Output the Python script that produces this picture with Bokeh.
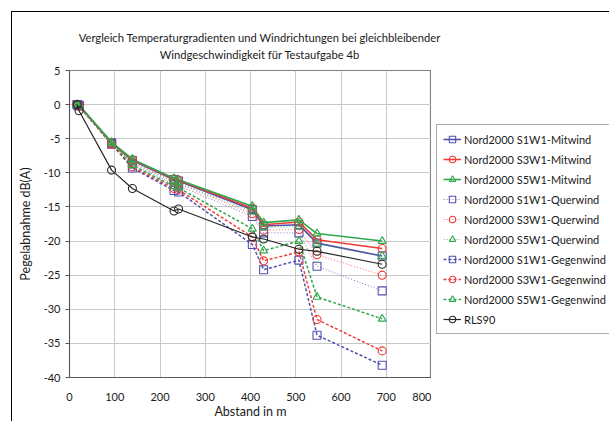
from bokeh.plotting import figure
from bokeh.layouts import row, column
from bokeh.models import Range1d, FixedTicker, Legend, LegendItem, PrintfTickFormatter, Div
from bokeh.embed import file_html
from bokeh.resources import INLINE

# ---- data ----
distance = [17, 21, 93, 139, 231, 241, 404, 429, 507, 547, 691]

s1_mit = [0, -0.1, -5.6, -8.2, -11.0, -11.2, -15.4, -17.8, -17.6, -20.3, -22.2]
s3_mit = [0, -0.1, -5.6, -8.1, -10.9, -11.1, -15.2, -17.6, -17.2, -19.8, -21.1]
s5_mit = [0, -0.1, -5.5, -8.0, -10.8, -11.0, -14.9, -17.3, -16.9, -18.9, -20.0]

s1_quer = [0, -0.1, -5.7, -8.7, -11.7, -11.9, -16.4, -18.8, -18.8, -23.7, -27.3]
s3_quer = [0, -0.1, -5.7, -8.5, -11.4, -11.6, -16.0, -18.4, -18.3, -22.0, -25.0]
s5_quer = [0, -0.1, -5.6, -8.4, -11.3, -11.5, -15.7, -18.0, -17.9, -20.4, -22.2]

s1_gegen = [0, -0.2, -5.8, -9.3, -12.6, -12.8, -20.5, -24.2, -22.8, -33.8, -38.2]
s3_gegen = [0, -0.2, -5.8, -9.1, -12.3, -12.5, -19.4, -22.9, -21.6, -31.5, -36.1]
s5_gegen = [0, -0.1, -5.7, -8.9, -12.0, -12.2, -18.2, -21.4, -20.0, -28.2, -31.4]

rls90 = [0, -0.9, -9.6, -12.3, -15.6, -15.3, -19.4, -19.7, -21.2, -21.5, -23.4]

series_names = [
    "Nord2000 S1W1-Mitwind", "Nord2000 S3W1-Mitwind", "Nord2000 S5W1-Mitwind",
    "Nord2000 S1W1-Querwind", "Nord2000 S3W1-Querwind", "Nord2000 S5W1-Querwind",
    "Nord2000 S1W1-Gegenwind", "Nord2000 S3W1-Gegenwind", "Nord2000 S5W1-Gegenwind",
    "RLS90",
]
series_values = [s1_mit, s3_mit, s5_mit, s1_quer, s3_quer, s5_quer,
                 s1_gegen, s3_gegen, s5_gegen, rls90]

x_ticks = [0, 100, 200, 300, 400, 500, 600, 700, 800]
y_ticks = [5, 0, -5, -10, -15, -20, -25, -30, -35, -40]

title_line1 = "Vergleich Temperaturgradienten und Windrichtungen bei gleichbleibender"
title_line2 = "Windgeschwindigkeit für Testaufgabe 4b"

# ---- styles ----
BLUE, RED, GREEN, BLACK = "#4F4FAE", "#EE3B36", "#2FA84F", "#262626"
colors = [BLUE, RED, GREEN] * 3 + [BLACK]
markers = ["square", "circle", "triangle"] * 3 + ["circle"]
dashes = ["solid"] * 3 + ["1 2"] * 3 + ["3 2"] * 3 + ["solid"]
widths = [1.6] * 3 + [1.0] * 3 + [1.5] * 3 + [1.2]
alphas = [1.0] * 3 + [0.75] * 3 + [1.0] * 3 + [1.0]

FONT = "Lato"

title_div = Div(
    text=f"<div>{title_line1}</div><div>{title_line2}</div>",
    width=495, height=50, margin=0,
    styles={"font-family": "Lato", "font-size": "11.2px", "color": "#1a1a1a",
            "text-align": "center", "line-height": "17px",
            "padding-top": "17px", "box-sizing": "border-box"})

p = figure(frame_width=362, frame_height=307, output_backend="svg",
           toolbar_location=None, title=None,
           x_range=Range1d(0, 800), y_range=Range1d(-40, 5),
           min_border_left=57, min_border_right=0, min_border_top=8,
           min_border_bottom=48, background_fill_color="white",
           border_fill_color="white")

p.outline_line_color = "#7F7F7F"
p.outline_line_width = 1.2

for ax in (p.xaxis[0], p.yaxis[0]):
    ax.axis_label_text_font = FONT
    ax.axis_label_text_font_size = "12.5px"
    ax.axis_label_text_font_style = "normal"
    ax.axis_label_text_color = "#1a1a1a"
    ax.major_label_text_font = FONT
    ax.major_label_text_font_size = "11px"
    ax.major_label_text_color = "#1a1a1a"
    ax.minor_tick_line_color = None
    ax.axis_line_color = "#595959"

p.xaxis.ticker = FixedTicker(ticks=x_ticks)
p.yaxis.ticker = FixedTicker(ticks=y_ticks)
p.yaxis.formatter = PrintfTickFormatter(format="%d")
p.xaxis.axis_label = "Abstand in m"
p.yaxis.axis_label = "Pegelabnahme dB(A)"
p.xaxis.major_tick_line_color = None
p.xaxis.major_label_standoff = 9
p.xaxis.axis_label_standoff = 0
p.yaxis.major_tick_in = 0
p.yaxis.major_tick_out = 4
p.yaxis.major_tick_line_color = "#595959"
p.yaxis.major_label_standoff = 5
p.yaxis.axis_label_standoff = 8

p.xgrid.grid_line_color = "#C8C8C8"
p.ygrid.grid_line_color = "#C8C8C8"

# legend panel as a separate figure (its data lies outside its own ranges)
lf = figure(frame_width=178, frame_height=307, output_backend="svg",
            toolbar_location=None, title=None,
            x_range=Range1d(0, 1), y_range=Range1d(0, 1),
            min_border_left=0, min_border_right=0, min_border_top=8,
            min_border_bottom=48, background_fill_color="white",
            border_fill_color="white")
lf.axis.visible = False
lf.grid.visible = False
lf.outline_line_color = None

items = []
for name, vals, c, m, d, w, a in zip(series_names, series_values, colors,
                                      markers, dashes, widths, alphas):
    p.line(distance, vals, line_color=c, line_width=w, line_dash=d, line_alpha=a)
    p.scatter(distance, vals, marker=m, size=8, line_color=c,
              line_width=1.1, fill_alpha=0)
    ln = lf.line(distance, vals, line_color=c, line_width=w, line_dash=d,
                 line_alpha=a)
    sc = lf.scatter(distance, vals, marker=m, size=8, line_color=c,
                    line_width=1.1, fill_alpha=0)
    items.append(LegendItem(label=name, renderers=[ln, sc]))

legend = Legend(items=items, location=(5, 43), label_text_font=FONT,
                label_text_font_size="11px", label_text_color="#1a1a1a",
                glyph_width=18, glyph_height=16, label_height=16,
                label_standoff=3, spacing=4, padding=6, margin=0,
                border_line_color="#595959", border_line_width=1.2,
                background_fill_alpha=1)
lf.add_layout(legend, "center")

layout = column(title_div, row(p, lf))
layout.margin = (11, 0, 0, 11)
layout.styles = {"border-top": "1.5px solid black", "border-left": "1.5px solid black"}

open("out.html", "w").write(file_html(layout, INLINE))
